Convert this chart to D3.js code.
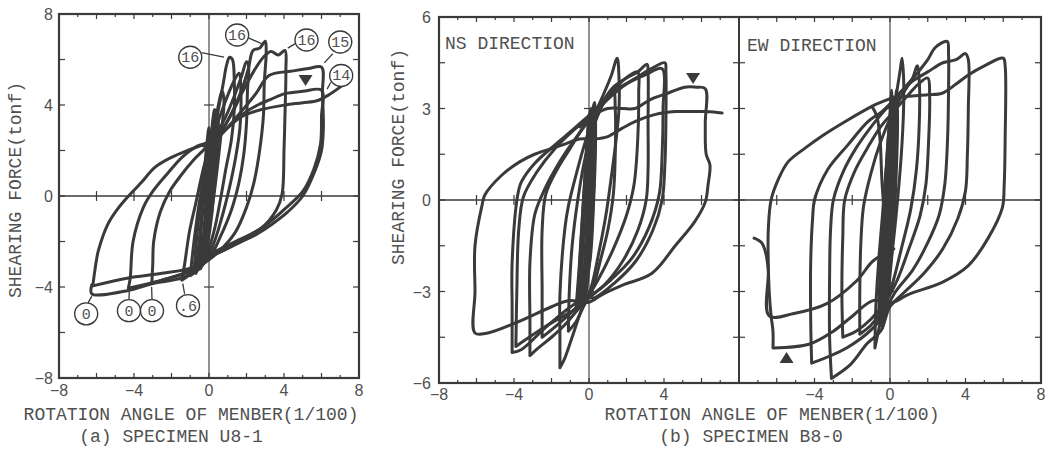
<!DOCTYPE html>
<html>
<head>
<meta charset="utf-8">
<script src="https://cdn.jsdelivr.net/npm/d3@7"></script>
<style>
body { margin: 0; background: #fff; }
svg { display: block; }
</style>
</head>
<body>
<svg id="chart" width="1049" height="449"></svg>
<script>
// ---- data : [rotation angle (1/100), shearing force (tonf)] ----

// (a) specimen U8-1
var u81Loops = [
  [[-0.35,-2.8],[-0.2,-1.2],[0,0.5],[0.2,2.0],[0.35,2.9],[0.3,1.8],[0.1,0.2],[-0.1,-1.4],[-0.35,-2.8]],
  [[-0.6,-3.1],[-0.45,-1.6],[-0.2,0.4],[0.1,2.1],[0.45,3.6],[0.5,3.0],[0.3,1.4],[0.05,-0.4],[-0.2,-2.0],[-0.6,-3.1]],
  [[-0.8,-3.3],[-0.65,-1.8],[-0.35,0.4],[0.0,2.2],[0.35,3.4],[0.7,4.6],[0.8,4.2],[0.6,2.4],[0.35,0.6],[0.05,-1.2],[-0.35,-2.6],[-0.8,-3.3]],
  [[-0.5,-3.0],[-0.4,-1.0],[-0.25,1.0],[-0.1,2.4],[0.0,3.0],[0.1,2.0],[0.0,0.0],[-0.2,-2.0],[-0.5,-3.0]],
  [[-0.45,-3.2],[-0.3,-1.8],[-0.15,-0.2],[0.0,1.4],[0.15,2.6],[0.25,3.4],[0.3,2.6],[0.2,1.0],[0.05,-0.6],[-0.15,-2.2],[-0.45,-3.2]],
  [[-0.2,-2.6],[-0.1,-1.2],[0.05,0.4],[0.2,1.8],[0.4,3.2],[0.45,2.4],[0.3,0.8],[0.15,-0.8],[-0.05,-2.0],[-0.2,-2.6]],
  [[-0.7,-3.4],[-0.55,-2.2],[-0.35,-0.6],[-0.15,1.0],[0.1,2.6],[0.3,3.8],[0.4,3.2],[0.25,1.6],[0.05,0.0],[-0.2,-1.6],[-0.45,-2.8],[-0.7,-3.4]],
  [[-1.45,-3.7],[-1.3,-3.0],[-1.05,-1.6],[-0.7,-0.3],[-0.3,1.2],[0.1,2.4],[0.45,3.6],[0.75,4.9],[0.95,5.8],[1.1,6.1],[1.25,6.0],[1.35,5.0],[1.35,3.8],[1.2,2.5],[0.9,1.2],[0.6,-0.2],[0.25,-1.6],[-0.2,-2.7],[-0.8,-3.3],[-1.45,-3.7]],
  [[-1.0,-3.5],[-0.8,-2.0],[-0.5,-0.2],[-0.1,1.6],[0.3,2.8],[0.8,4.0],[1.3,5.0],[1.6,5.4],[1.7,4.6],[1.65,3.0],[1.4,1.6],[1.1,0.4],[0.7,-0.9],[0.2,-2.2],[-0.4,-3.1],[-1.0,-3.5]],
  [[-3.05,-3.85],[-3.0,-3.0],[-2.95,-2.0],[-2.6,-0.7],[-2.1,0.2],[-1.5,0.9],[-0.8,1.6],[-0.2,2.1],[0.3,2.6],[0.9,3.5],[1.4,4.5],[1.75,5.3],[2.0,5.9],[2.1,5.8],[2.05,4.6],[2.0,3.2],[1.85,1.8],[1.6,0.6],[1.2,-0.6],[0.6,-1.8],[0.1,-2.6],[-0.6,-3.1],[-1.5,-3.45],[-2.3,-3.65],[-3.05,-3.85]],
  [[-4.3,-4.05],[-4.2,-3.6],[-4.05,-2.0],[-3.5,-0.5],[-3.0,0.2],[-2.2,1.0],[-1.44,1.7],[-0.6,2.2],[0.1,2.4],[0.7,2.9],[1.3,3.8],[1.8,4.8],[2.1,5.6],[2.35,6.4],[2.7,6.5],[3.0,6.8],[3.05,6.3],[2.95,5.0],[2.9,3.5],[2.7,2.0],[2.4,0.6],[2.0,-0.5],[1.4,-1.6],[0.7,-2.3],[0.0,-2.8],[-1.0,-3.3],[-2.5,-3.7],[-4.3,-4.05]],
  [[-6.2,-3.95],[-6.0,-2.8],[-5.9,-2.4],[-5.4,-1.25],[-4.9,-0.6],[-4.4,-0.1],[-3.6,0.6],[-2.9,1.25],[-2.0,1.7],[-1.0,2.05],[-0.2,2.3],[0.5,2.7],[1.2,3.6],[1.8,4.6],[2.4,5.5],[2.9,6.1],[3.3,6.35],[3.7,6.2],[4.05,6.4],[4.1,5.5],[4.05,3.5],[4.0,2.0],[3.9,0.1],[3.6,-0.6],[2.8,-1.4],[1.4,-2.0],[0.2,-2.5],[-0.75,-3.1],[-2.5,-3.4],[-4.3,-3.6],[-6.2,-3.95]],
  [[-0.3,2.2],[0.5,2.6],[1.5,3.5],[2.5,4.5],[3.2,5.3],[4.5,5.5],[5.3,5.6],[6.0,5.66],[6.05,4.5],[6.1,3.0],[6.0,2.0],[5.65,1.1],[5.0,0],[4.2,-0.7],[3.36,-1.24],[2.5,-1.7],[1.76,-2.0],[0.9,-2.35],[0.16,-2.65],[-0.6,-3.2],[-1.44,-3.6],[-3.0,-3.85],[-4.3,-4.15],[-6.25,-4.3],[-6.25,-3.9]],
  [[0.2,2.3],[1.0,3.0],[1.8,3.6],[2.6,4.0],[3.3,4.25],[4.05,4.5],[5.0,4.6],[6.0,4.65],[6.0,3.5],[5.95,2.3],[5.6,1.2],[5.0,0.2],[4.0,-0.6],[3.0,-1.3],[1.8,-1.9],[0.5,-2.5]],
  [[0.2,2.3],[1.0,3.0],[1.76,3.5],[2.8,3.8],[4.05,4.0],[5.0,4.1],[5.8,4.2],[6.4,4.45],[7.1,4.85]]
];
var u81Marks = [[5.15, 5.1, "down"]];
var u81Tags = [
  // [label x, label y, text, leader from, leader to]
  [-1.0, 6.1, "16", [-0.4, 6.3], [0.8, 6.1]],
  [1.5, 7.08, "16", [2.1, 6.95], [2.8, 6.7]],
  [5.2, 6.86, "16", [4.6, 6.7], [4.2, 6.5]],
  [7.0, 6.77, "15", [6.6, 6.25], [6.15, 5.85]],
  [7.05, 5.3, "14", [6.5, 5.0], [6.3, 4.7]],
  [-6.55, -5.18, "0", [-6.45, -4.7], [-6.25, -4.4]],
  [-4.27, -5.04, "0", [-4.27, -4.55], [-4.25, -4.2]],
  [-3.04, -5.04, "0", [-3.04, -4.55], [-3.06, -4.0]],
  [-1.12, -4.82, ".6", [-1.3, -4.3], [-1.4, -3.85]]
];

// (b) specimen B8-0, NS direction
var nsLoops = [
  [[-0.5,-3.3],[-0.35,-1.5],[-0.15,0.5],[0.05,2.0],[0.2,3.0],[0.25,2.2],[0.15,0.3],[0.0,-1.5],[-0.2,-2.8],[-0.5,-3.3]],
  [[-0.3,-3.0],[-0.15,-1.0],[0.0,1.0],[0.1,2.6],[0.3,3.2],[0.35,2.0],[0.25,0.0],[0.05,-2.0],[-0.3,-3.0]],
  [[-0.7,-3.6],[-0.5,-2.0],[-0.3,0.0],[-0.1,1.8],[0.0,2.8],[0.15,1.0],[0.1,-1.0],[-0.2,-2.6],[-0.7,-3.6]],
  [[-0.45,-3.5],[-0.35,-1.8],[-0.2,0.0],[-0.05,1.6],[0.05,2.8],[0.15,1.6],[0.05,-0.2],[-0.1,-1.8],[-0.25,-3.0],[-0.45,-3.5]],
  [[-0.6,-3.4],[-0.45,-1.6],[-0.25,0.4],[-0.1,2.0],[0.1,3.0],[0.2,2.0],[0.1,0.2],[-0.05,-1.6],[-0.3,-2.9],[-0.6,-3.4]],
  [[-0.2,-3.3],[-0.1,-1.6],[0.05,0.2],[0.2,1.8],[0.3,2.6],[0.3,1.4],[0.2,-0.4],[0.0,-2.2],[-0.2,-3.3]],
  [[-1.1,-4.3],[-1.05,-3.0],[-0.9,-1.5],[-0.6,0.0],[-0.2,1.4],[0.3,2.5],[0.8,3.2],[1.3,3.6],[1.4,3.0],[1.4,1.5],[1.3,0.2],[1.0,-1.0],[0.6,-2.0],[0.2,-2.9],[-0.3,-3.5],[-0.7,-4.0],[-1.1,-4.3]],
  [[-1.55,-5.5],[-1.55,-4.5],[-1.55,-3.1],[-1.28,-0.9],[-1.1,-0.2],[-0.7,0.8],[-0.2,1.9],[0.3,2.8],[0.8,3.5],[1.2,4.1],[1.5,4.65],[1.6,4.0],[1.6,3.0],[1.45,2.0],[1.2,0.8],[0.9,-0.5],[0.5,-1.8],[0.1,-2.9],[-0.4,-3.6],[-0.9,-4.5],[-1.3,-5.2],[-1.55,-5.5]],
  [[-2.5,-4.5],[-2.5,-3.0],[-2.5,-1.0],[-2.3,0.2],[-1.7,1.0],[-1.0,1.7],[-0.3,2.4],[0.3,2.9],[1.0,3.4],[1.6,3.8],[2.2,4.1],[2.6,4.2],[2.65,3.5],[2.6,2.0],[2.4,0.5],[2.0,-0.5],[1.3,-1.6],[0.5,-2.6],[0.0,-3.1],[-0.8,-3.6],[-1.7,-4.1],[-2.5,-4.5]],
  [[-3.15,-5.1],[-3.15,-4.0],[-3.15,-2.05],[-2.9,-0.5],[-2.5,0.17],[-1.9,0.9],[-1.2,1.6],[-0.5,2.2],[0.1,2.7],[0.7,3.2],[1.3,3.7],[2.0,4.0],[2.6,4.2],[3.1,4.45],[3.15,4.2],[3.15,2.5],[3.15,1.0],[3.05,0],[2.6,-1.0],[1.8,-2.0],[0.8,-2.8],[0.0,-3.2],[-0.6,-3.6],[-1.3,-4.1],[-2.0,-4.5],[-2.7,-4.85],[-3.15,-5.1]],
  [[-4.1,-5.0],[-4.1,-3.5],[-4.1,-2.05],[-3.8,0.17],[-3.6,0.6],[-2.9,1.2],[-1.44,2.0],[-0.37,2.57],[0.4,3.0],[1.2,3.5],[1.8,3.75],[2.5,4.0],[3.3,4.3],[4.05,4.5],[4.1,4.2],[4.1,2.5],[4.05,1.2],[3.9,0],[3.4,-1.0],[2.5,-2.0],[1.4,-2.7],[0.3,-3.2],[-0.2,-3.2],[-1.1,-3.56],[-2.35,-4.2],[-3.6,-4.9],[-4.1,-5.0]],
  [[-3.9,-4.8],[-3.85,-3.0],[-3.75,-1.0],[-3.5,0.1],[-2.8,0.9],[-1.8,1.7],[-0.8,2.3],[0.2,2.8],[1.0,3.3],[2.0,3.8],[3.0,4.1],[3.9,4.3],[3.95,3.0],[3.9,1.5],[3.75,0.2],[3.2,-0.9],[2.3,-1.9],[1.2,-2.6],[0.2,-3.1],[-0.8,-3.6],[-2.2,-4.1],[-3.9,-4.8]],
  [[-0.5,2.4],[0.3,2.8],[1.0,3.0],[1.8,3.0],[2.45,3.0],[3.3,3.3],[4.2,3.5],[5.1,3.7],[5.7,3.7],[6.2,3.65],[6.2,2.5],[6.25,1.5],[6.45,1.15],[6.35,0.5],[6.2,-0.07],[5.65,-0.7],[4.6,-1.5],[3.36,-2.4],[1.76,-2.8],[0.7,-3.1],[0.0,-3.35],[-1.1,-3.3],[-2.0,-3.5],[-3.8,-4.0],[-5.4,-4.36],[-6.08,-4.36],[-6.08,-3.0],[-6.08,-1.5],[-5.7,-0.16],[-5.55,0.17],[-4.64,0.82],[-3.7,1.25],[-2.9,1.5],[-1.44,1.8],[-0.5,2.0],[0.3,2.0],[1.0,2.08],[1.76,2.35],[2.45,2.57],[3.5,2.8],[4.6,2.9],[5.5,2.9],[6.3,2.9],[7.1,2.85]]
];
var nsMarks = [[5.55, 4.0, "down"]];

// (b) specimen B8-0, EW direction
var ewLoops = [
  [[-0.5,-3.6],[-0.35,-1.5],[-0.2,0.5],[0.0,2.2],[0.15,3.0],[0.2,2.0],[0.1,0.0],[-0.1,-2.0],[-0.5,-3.6]],
  [[-0.3,-3.2],[-0.2,-1.0],[-0.05,1.2],[0.1,2.6],[0.3,3.3],[0.35,2.0],[0.2,0.0],[0.0,-2.2],[-0.3,-3.2]],
  [[-0.6,-4.0],[-0.5,-2.0],[-0.3,0.0],[-0.1,2.0],[0.05,2.9],[0.0,1.0],[-0.15,-1.2],[-0.35,-3.0],[-0.6,-4.0]],
  [[-0.4,-4.2],[-0.3,-2.2],[-0.15,0.0],[0.0,2.0],[0.15,3.4],[0.25,2.4],[0.15,0.2],[0.0,-2.0],[-0.2,-3.6],[-0.4,-4.2]],
  [[-0.55,-3.8],[-0.4,-1.8],[-0.25,0.4],[-0.05,2.4],[0.1,3.6],[0.1,2.2],[-0.05,0.0],[-0.2,-2.0],[-0.55,-3.8]],
  [[-0.2,-3.6],[-0.1,-1.6],[0.05,0.6],[0.2,2.4],[0.35,3.6],[0.4,2.6],[0.3,0.4],[0.1,-1.8],[-0.2,-3.6]],
  [[-0.8,-4.85],[-0.75,-3.5],[-0.6,-2.0],[-0.4,-0.5],[-0.2,1.0],[0.1,2.4],[0.35,3.5],[0.55,4.3],[0.64,4.65],[0.72,4.0],[0.72,3.0],[0.6,1.5],[0.4,0.0],[0.15,-1.5],[-0.15,-2.8],[-0.45,-3.8],[-0.8,-4.85]],
  [[-1.6,-4.4],[-1.6,-3.0],[-1.55,-1.5],[-1.4,-0.2],[-1.0,0.9],[-0.5,1.9],[0.1,2.8],[0.7,3.5],[1.2,4.0],[1.44,4.4],[1.55,3.9],[1.55,2.5],[1.4,1.0],[1.1,-0.3],[0.6,-1.6],[0.1,-2.8],[-0.4,-3.6],[-1.0,-4.1],[-1.6,-4.4]],
  [[-2.5,-4.5],[-2.55,-3.0],[-2.5,-1.2],[-2.4,0.0],[-1.9,0.9],[-1.2,1.7],[-0.5,2.4],[0.2,2.9],[0.9,3.4],[1.5,3.8],[2.0,4.0],[2.1,3.4],[2.05,2.0],[1.9,0.5],[1.6,-0.5],[1.0,-1.6],[0.4,-2.6],[-0.2,-3.3],[-1.0,-3.9],[-1.8,-4.3],[-2.5,-4.5]],
  [[-4.15,-5.35],[-4.2,-4.0],[-4.2,-2.0],[-4.1,-0.6],[-4.0,0],[-3.3,1.0],[-2.24,1.8],[-1.17,2.57],[-0.43,2.9],[0.1,3.2],[0.8,3.7],[1.5,4.2],[2.0,4.6],[2.4,5.0],[3.03,5.2],[3.1,4.8],[3.1,3.5],[3.05,2.0],[2.9,0.5],[2.6,-0.5],[2.0,-1.4],[1.2,-2.3],[0.3,-3.0],[-0.4,-3.8],[-0.9,-4.2],[-2.3,-4.85],[-4.15,-5.35]],
  [[-3.1,-5.85],[-3.2,-4.5],[-3.2,-2.5],[-3.15,-1.0],[-3.0,0],[-2.5,0.9],[-1.8,1.7],[-1.0,2.4],[-0.2,3.0],[0.5,3.5],[1.2,3.9],[2.0,4.2],[2.8,4.5],[3.5,4.6],[4.0,4.8],[4.15,4.6],[4.15,3.0],[4.1,1.5],[4.0,0.3],[3.6,-0.6],[2.8,-1.6],[1.8,-2.4],[0.8,-3.0],[0.0,-3.5],[-0.5,-4.3],[-1.2,-4.7],[-2.1,-5.4],[-3.1,-5.85]],
  [[-6.2,-4.85],[-6.2,-4.3],[-6.3,-3.8],[-6.4,-3.0],[-6.45,-2.0],[-6.45,-1.0],[-6.3,0],[-5.9,0.7],[-5.4,1.25],[-4.5,1.7],[-3.6,2.1],[-2.3,2.6],[-0.96,3.07],[-0.5,3.2],[0.2,3.35],[1.0,3.4],[2.0,3.45],[2.76,3.5],[3.5,3.8],[4.15,4.1],[5.0,4.4],[6.0,4.65],[6.1,4.4],[6.1,2.0],[6.05,0.5],[5.95,-0.26],[5.2,-1.25],[4.15,-2.15],[2.76,-2.7],[0.96,-3.1],[0.1,-3.37],[-0.9,-3.3],[-2.1,-3.86],[-3.0,-4.3],[-4.25,-4.72],[-6.2,-4.85]],
  [[-0.96,3.07],[-0.7,2.75],[-0.53,2.0],[-0.43,0.66],[-0.3,-0.5]],
  [[0.2,-1.6],[-0.9,-2.0],[-1.75,-2.64],[-3.35,-3.4],[-5.15,-3.73],[-6.4,-3.8],[-6.45,-2.3],[-6.6,-1.7],[-6.8,-1.4],[-7.2,-1.25]]
];
var ewMarks = [[-5.48, -5.18, "up"]];

var xTicksA = [-8, -4, 0, 4, 8], yTicksA = [-8, -4, 0, 4, 8];
var xTicksNS = [-8, -4, 0, 4], xTicksEW = [-4, 0, 4, 8], yTicksB = [-6, -3, 0, 3, 6];

// ---- drawing ----
var ink = "#3a3a3a", txt = "#505050";
var svg = d3.select("#chart");
svg.append("rect").attr("width", 1049).attr("height", 449).attr("fill", "#fff");

var xa = d3.scaleLinear().domain([-8, 8]).range([59, 359]);
var ya = d3.scaleLinear().domain([-8, 8]).range([378, 14]);
var xn = d3.scaleLinear().domain([-8, 8]).range([439, 739]);
var xe = d3.scaleLinear().domain([-8, 8]).range([739, 1041]);
var yb = d3.scaleLinear().domain([-6, 6]).range([383, 17]);

function frame(x, y, yStep, side) {
	var g = svg.append("g").attr("stroke", ink).attr("fill", "none");
	var x0 = x.range()[0], x1 = x.range()[1], y0 = y.range()[1], y1 = y.range()[0];
	// centre lines
	g.append("line").attr("x1", x(0)).attr("x2", x(0)).attr("y1", y0).attr("y2", y1).attr("stroke-width", 1.1);
	g.append("line").attr("x1", x0).attr("x2", x1).attr("y1", y(0)).attr("y2", y(0)).attr("stroke-width", 1.3);
	// ticks on top / bottom, every unit
	d3.range(-7, 8).forEach(function(v) {
		var len = (v % 2 === 0) ? 5 : 3;
		g.append("line").attr("x1", x(v)).attr("x2", x(v)).attr("y1", y0).attr("y2", y0 + len).attr("stroke-width", 1.2);
		g.append("line").attr("x1", x(v)).attr("x2", x(v)).attr("y1", y1).attr("y2", y1 - len).attr("stroke-width", 1.2);
		if (v % 2 === 0 && v !== 0)
			g.append("line").attr("x1", x(v)).attr("x2", x(v)).attr("y1", y(0) - 5).attr("y2", y(0) + 5).attr("stroke-width", 1.2);
	});
	// ticks on left / right
	var ymax = y.domain()[1];
	for (var v = -ymax + yStep; v < ymax - 0.01; v += yStep) {
		if (side.indexOf("l") >= 0) g.append("line").attr("x1", x0).attr("x2", x0 + 6).attr("y1", y(v)).attr("y2", y(v)).attr("stroke-width", 1.2);
		if (side.indexOf("r") >= 0) g.append("line").attr("x1", x1).attr("x2", x1 - 6).attr("y1", y(v)).attr("y2", y(v)).attr("stroke-width", 1.2);
		if (Math.abs(v) > 0.01 && Math.abs(Math.abs(v) - ymax / 2) < 0.01)
			g.append("line").attr("x1", x(0) - 5).attr("x2", x(0) + 5).attr("y1", y(v)).attr("y2", y(v)).attr("stroke-width", 1.2);
	}
}

function loops(x, y, data, id) {
	svg.append("clipPath").attr("id", id).append("rect")
		.attr("x", x.range()[0]).attr("y", y.range()[1])
		.attr("width", x.range()[1] - x.range()[0]).attr("height", y.range()[0] - y.range()[1]);
	var line = d3.line()
		.x(function(d) { return x(d[0]); })
		.y(function(d) { return y(d[1]); })
		.curve(d3.curveCatmullRom.alpha(0.5));
	svg.append("g").attr("clip-path", "url(#" + id + ")")
		.selectAll("path").data(data).enter().append("path")
		.attr("d", line)
		.attr("fill", "none")
		.attr("stroke", ink)
		.attr("stroke-width", 3)
		.attr("stroke-linejoin", "round")
		.attr("stroke-linecap", "round");
}

function marks(x, y, data) {
	data.forEach(function(m) {
		var cx = x(m[0]), cy = y(m[1]), s = m[2] === "down" ? 1 : -1;
		svg.append("path")
			.attr("d", "M" + (cx - 7) + "," + (cy - 5 * s) + "L" + (cx + 7) + "," + (cy - 5 * s) + "L" + cx + "," + (cy + 6 * s) + "Z")
			.attr("fill", ink);
	});
}

function tags(x, y, data) {
	data.forEach(function(t) {
		svg.append("line")
			.attr("x1", x(t[3][0])).attr("y1", y(t[3][1]))
			.attr("x2", x(t[4][0])).attr("y2", y(t[4][1]))
			.attr("stroke", ink).attr("stroke-width", 1.3);
		svg.append("ellipse").attr("cx", x(t[0])).attr("cy", y(t[1])).attr("rx", 11.5).attr("ry", 11)
			.attr("fill", "#fff").attr("stroke", ink).attr("stroke-width", 1.4);
		svg.append("text").attr("x", x(t[0])).attr("y", y(t[1]) + 5)
			.attr("text-anchor", "middle")
			.style("font-family", "'Liberation Mono', monospace").style("font-size", "15px")
			.attr("fill", txt).text(t[2]);
	});
}

function tickLabels(x, y, xs, ys, xlabY, ylabX) {
	var g = svg.append("g").style("font-family", "'Liberation Sans', sans-serif").style("font-size", "16px").attr("fill", txt);
	xs.forEach(function(v) {
		g.append("text").attr("x", x(v)).attr("y", xlabY).attr("text-anchor", "middle").text(v < 0 ? "\u2212" + (-v) : v);
	});
	if (ys) ys.forEach(function(v) {
		g.append("text").attr("x", ylabX).attr("y", y(v) + 6).attr("text-anchor", "end").text(v < 0 ? "\u2212" + (-v) : v);
	});
}

function mono(x, y, s, size, anchor, rot) {
	return svg.append("text")
		.attr("transform", "translate(" + x + "," + y + ")" + (rot ? " rotate(" + rot + ")" : ""))
		.attr("text-anchor", anchor || "middle")
		.style("font-family", "'Liberation Mono', monospace").style("font-size", size + "px")
		.attr("fill", txt).text(s);
}

// panel (a)
loops(xa, ya, u81Loops, "clipA");
frame(xa, ya, 2, "lr");
svg.append("rect").attr("x", 59).attr("y", 14).attr("width", 300).attr("height", 364)
	.attr("fill", "none").attr("stroke", ink).attr("stroke-width", 2.2);
marks(xa, ya, u81Marks);
tags(xa, ya, u81Tags);
tickLabels(xa, ya, xTicksA, yTicksA, 396, 53);
mono(21, 190, "SHEARING FORCE(tonf)", 18, "middle", -90);
mono(191, 420, "ROTATION ANGLE OF MENBER(1/100)", 18);
mono(171, 442, "(a) SPECIMEN U8-1", 18);

// panel (b)
loops(xn, yb, nsLoops, "clipNS");
loops(xe, yb, ewLoops, "clipEW");
frame(xn, yb, 1.5, "lr");
frame(xe, yb, 1.5, "lr");
svg.append("rect").attr("x", 439).attr("y", 17).attr("width", 602).attr("height", 366)
	.attr("fill", "none").attr("stroke", ink).attr("stroke-width", 2.2);
svg.append("line").attr("x1", 739).attr("x2", 739).attr("y1", 17).attr("y2", 383)
	.attr("stroke", ink).attr("stroke-width", 2);
marks(xn, yb, nsMarks);
marks(xe, yb, ewMarks);
tickLabels(xn, yb, xTicksNS, yTicksB, 400, 431);
tickLabels(xe, yb, xTicksEW, null, 400, 0);
mono(404, 157, "SHEARING FORCE(tonf)", 18, "middle", -90);
mono(772, 420, "ROTATION ANGLE OF MENBER(1/100)", 18);
mono(751, 442, "(b) SPECIMEN B8-0", 18);
mono(445, 49, "NS DIRECTION", 18, "start");
mono(747, 51, "EW DIRECTION", 18, "start");
</script>
</body>
</html>
